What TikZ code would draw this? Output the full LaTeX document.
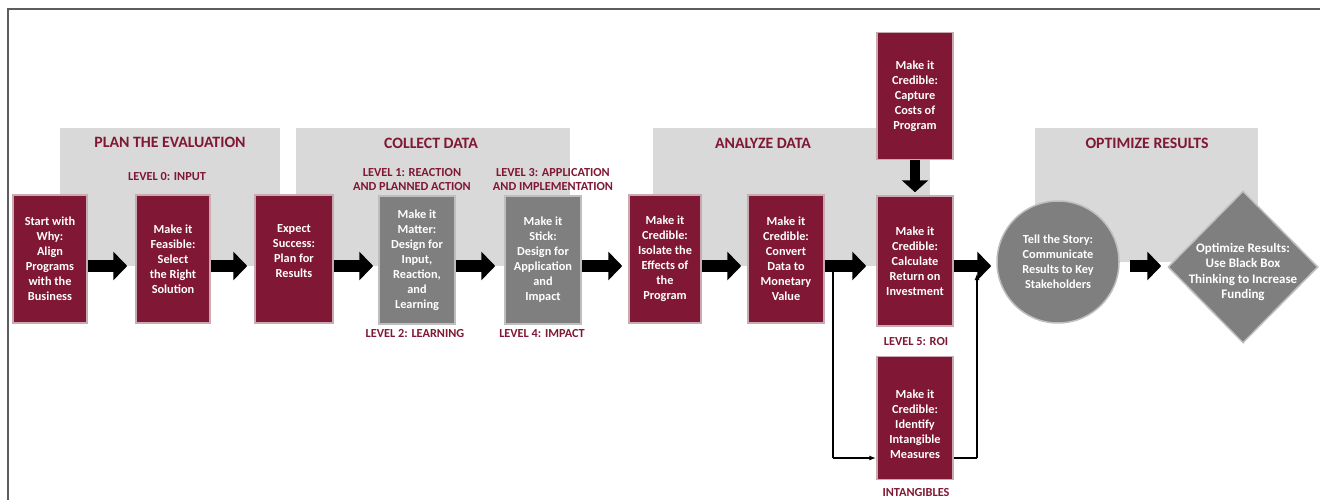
\documentclass[tikz,border=0pt]{standalone}
\usepackage{fontspec}
\setmainfont{Carlito}
\usetikzlibrary{arrows.meta,shapes.geometric}

\definecolor{maroon}{RGB}{128,23,52}
\definecolor{maroonedge}{RGB}{200,170,178}
\definecolor{stepgray}{RGB}{127,127,127}
\definecolor{grayedge}{RGB}{190,190,190}
\definecolor{panelgray}{RGB}{217,217,217}
\definecolor{framegray}{RGB}{90,94,98}

\newcommand\bxfont{\bfseries\fontsize{12.3}{15}\selectfont}
\newcommand\dmfont{\bfseries\fontsize{13}{15.5}\selectfont}
\newcommand\hdfont{\bfseries\fontsize{15.8}{18}\selectfont}
\newcommand\lvfont{\bfseries\fontsize{12.3}{14}\selectfont}

\tikzset{
  stepbox/.style={rectangle, fill=maroon, draw=maroonedge, line width=1.5pt,
    minimum width=76pt, minimum height=128pt, text=white, font=\bxfont,
    align=center, inner sep=2pt},
  graybox/.style={stepbox, fill=stepgray, draw=grayedge},
  panel/.style={rectangle, fill=panelgray, draw=none, inner sep=0pt},
  header/.style={text=maroon, font=\hdfont, align=center, inner sep=0pt},
  levellabel/.style={text=maroon, font=\lvfont, align=center, inner sep=0pt},
  bigarrow/.style={black, line width=12pt, -{Triangle[length=14pt,width=28pt]}},
  downarrow/.style={black, line width=10pt, -{Triangle[length=12pt,width=26pt]}},
  thinarrow/.style={black, line width=1.6pt, -{Latex[length=7pt,width=5pt]}},
  thinline/.style={black, line width=1.6pt},
}

\begin{document}
\begin{tikzpicture}[x=1pt,y=-1pt]
  \useasboundingbox (0,0) rectangle (1320,500);

  % outer frame (top and left edges)
  \draw[framegray, line width=2pt] (1320,9) -- (8,9) -- (8,500);

  % phase panels
  \node[panel, minimum width=220pt, minimum height=138pt] (pplan) at (170,197) {};
  \node[panel, minimum width=274pt, minimum height=138pt] (pcollect) at (433,197) {};
  \node[panel, minimum width=277pt, minimum height=138pt] (panalyze) at (791.5,197) {};
  \node[panel, minimum width=223pt, minimum height=134pt] (poptimize) at (1146.5,195) {};

  % phase headers
  \node[header] (hplan) at (170,142) {PLAN THE EVALUATION};
  \node[header] (hcollect) at (431,143) {COLLECT DATA};
  \node[header] (hanalyze) at (763,143) {ANALYZE DATA};
  \node[header] (hoptimize) at (1147,143) {OPTIMIZE RESULTS};

  % level labels
  \node[levellabel] (l0) at (167,177) {LEVEL 0: INPUT};
  \node[levellabel] (l1) at (412,180) {LEVEL 1: REACTION\\AND PLANNED ACTION};
  \node[levellabel] (l3) at (553,180) {LEVEL 3: APPLICATION\\AND IMPLEMENTATION};
  \node[levellabel] (l2) at (415,334) {LEVEL 2: LEARNING};
  \node[levellabel] (l4) at (542,334) {LEVEL 4: IMPACT};
  \node[levellabel] (l5) at (916,342) {LEVEL 5: ROI};
  \node[levellabel] (lint) at (916,493) {INTANGIBLES};

  % process steps
  \node[stepbox, minimum width=74pt] (why) at (50,259) {Start with\\Why:\\Align\\Programs\\with the\\Business};
  \node[stepbox, minimum width=74pt] (feas) at (173,259) {Make it\\Feasible:\\Select\\the Right\\Solution};
  \node[stepbox, minimum width=78pt] (expect) at (294,259) {Expect\\Success:\\Plan for\\Results\\[1pt]};
  \node[graybox] (matter) at (417,260) {Make it\\Matter:\\Design for\\Input,\\Reaction,\\and\\Learning};
  \node[graybox] (stick) at (543,260) {Make it\\Stick:\\Design for\\Application\\and\\Impact};
  \node[stepbox, minimum width=72pt] (isolate) at (665,259) {Make it\\Credible:\\Isolate the\\Effects of\\the\\Program};
  \node[stepbox] (convert) at (786,259) {Make it\\Credible:\\Convert\\Data to\\Monetary\\Value};
  \node[stepbox, minimum height=130pt] (roi) at (915,261) {Make it\\Credible:\\Calculate\\Return on\\Investment};
  \node[stepbox, minimum height=127pt] (capture) at (915,96) {Make it\\Credible:\\Capture\\Costs of\\Program};
  \node[stepbox, minimum height=123pt] (intang) at (915,418) {\\[6pt]Make it\\Credible:\\Identify\\Intangible\\Measures};
  \node[circle, fill=stepgray, draw=grayedge, line width=1.5pt, minimum size=122pt,
        text=white, font=\bxfont, align=center, inner sep=0pt] (story) at (1058,262)
        {Tell the Story:\\Communicate\\Results to Key\\Stakeholders};
  \node[diamond, fill=stepgray, draw=grayedge, line width=1.5pt, minimum width=150pt,
        minimum height=152pt, inner sep=0pt] (optim) at (1243,267) {};
  \node[text=white, font=\dmfont, align=center, inner sep=0pt] (optimtext) at (1243,272)
        {Optimize Results:\\Use Black Box\\Thinking to Increase\\Funding};

  % main flow row and branch points
  \coordinate (row) at (0,266);
  \coordinate (split) at (833,266);
  \coordinate (low) at (833,458);
  \coordinate (rise) at (977,458);
  \coordinate (merge) at (977,273);

  % intangibles bypass
  \draw[thinline] (split) -- (low);
  \draw[thinarrow] (low) -- (intang.west |- low);
  \draw[thinline] (intang.east |- low) -- (rise);
  \draw[thinarrow] (rise) -- (merge);

  % block arrows
  \draw[bigarrow, shorten >=8pt] (why.east |- row) -- (feas.west |- row);
  \draw[bigarrow, shorten >=7pt] (feas.east |- row) -- (expect.west |- row);
  \draw[bigarrow, shorten >=5pt] (expect.east |- row) -- (matter.west |- row);
  \draw[bigarrow, shorten >=9pt] (matter.east |- row) -- (stick.west |- row);
  \draw[bigarrow, shorten >=6pt] (stick.east |- row) -- (isolate.west |- row);
  \draw[bigarrow, shorten >=6pt] (isolate.east |- row) -- (convert.west |- row);
  \draw[bigarrow, shorten >=10pt] (convert.east |- row) -- (roi.west |- row);
  \draw[bigarrow, shorten >=5pt] (roi.east |- row) -- (story.west |- row);
  \draw[bigarrow, shorten <=10pt, shorten >=6pt] (story.east |- row) -- (optim.west |- row);
  \draw[downarrow, shorten >=3pt] (capture.south) -- (roi.north);
\end{tikzpicture}
\end{document}
